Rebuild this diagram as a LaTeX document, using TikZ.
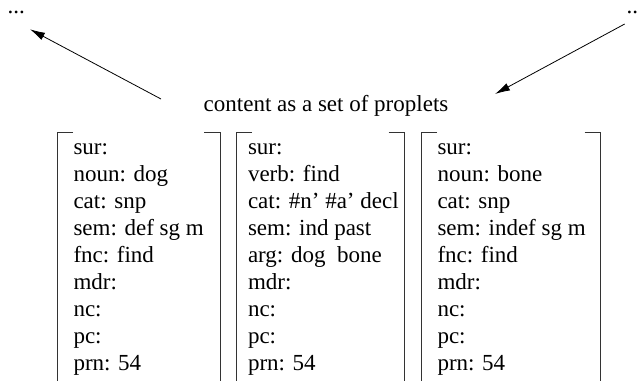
\documentclass[tikz,border=0pt]{standalone}
\usepackage{fontspec}
\setmainfont{Liberation Serif}
\usetikzlibrary{arrows.meta}
\begin{document}
\begin{tikzpicture}[x=1pt,y=-1pt,
  txt/.style={inner sep=0pt, anchor=base west, font=\fontsize{23}{27}\selectfont},
  brk/.style={line width=1pt, draw=black!80},
  arr/.style={line width=0.8pt, -{Latex[length=15pt,width=8pt]}}]
\useasboundingbox (0,0) rectangle (639,380);
% top labels
\node[txt] (ld) at (7.5,13.5) {...};
\node[txt] (rd) at (626.5,13.5) {...};
\node[txt] (title) at (203.5,111.7) {content as a set of proplets};
% arrows
\coordinate (a1s) at (161,99);
\coordinate (a1e) at (30,29.3);
\coordinate (a2s) at (624.7,24);
\coordinate (a2e) at (495,94);
\draw[arr] (a1s) -- (a1e);
\draw[arr] (a2s) -- (a2e);
% brackets
\draw[brk] (73,132.5) -- (57.3,132.5) -- (57.3,382);
\draw[brk] (204,132.5) -- (220,132.5) -- (220,382);
\draw[brk] (252,132.5) -- (236,132.5) -- (236,382);
\draw[brk] (388.5,132.5) -- (404.5,132.5) -- (404.5,382);
\draw[brk] (437,132.5) -- (421,132.5) -- (421,382);
\draw[brk] (584.5,132.5) -- (600.5,132.5) -- (600.5,382);
% columns
\node[txt] (c1) at (73.3,154.5) {\begin{tabular}[t]{@{}l@{}}sur:\\noun: dog\\cat: snp\\sem: def sg m\\fnc: find\\mdr:\\nc:\\pc:\\prn: 54\end{tabular}};
\node[txt] (c2) at (247.8,154.5) {\begin{tabular}[t]{@{}l@{}}sur:\\verb: find\\cat: \#n' \#a' decl\\sem: ind past\\arg: dog\ \ bone\\mdr:\\nc:\\pc:\\prn: 54\end{tabular}};
\node[txt] (c3) at (437.3,154.5) {\begin{tabular}[t]{@{}l@{}}sur:\\noun: bone\\cat: snp\\sem: indef sg m\\fnc: find\\mdr:\\nc:\\pc:\\prn: 54\end{tabular}};
\end{tikzpicture}
\end{document}
